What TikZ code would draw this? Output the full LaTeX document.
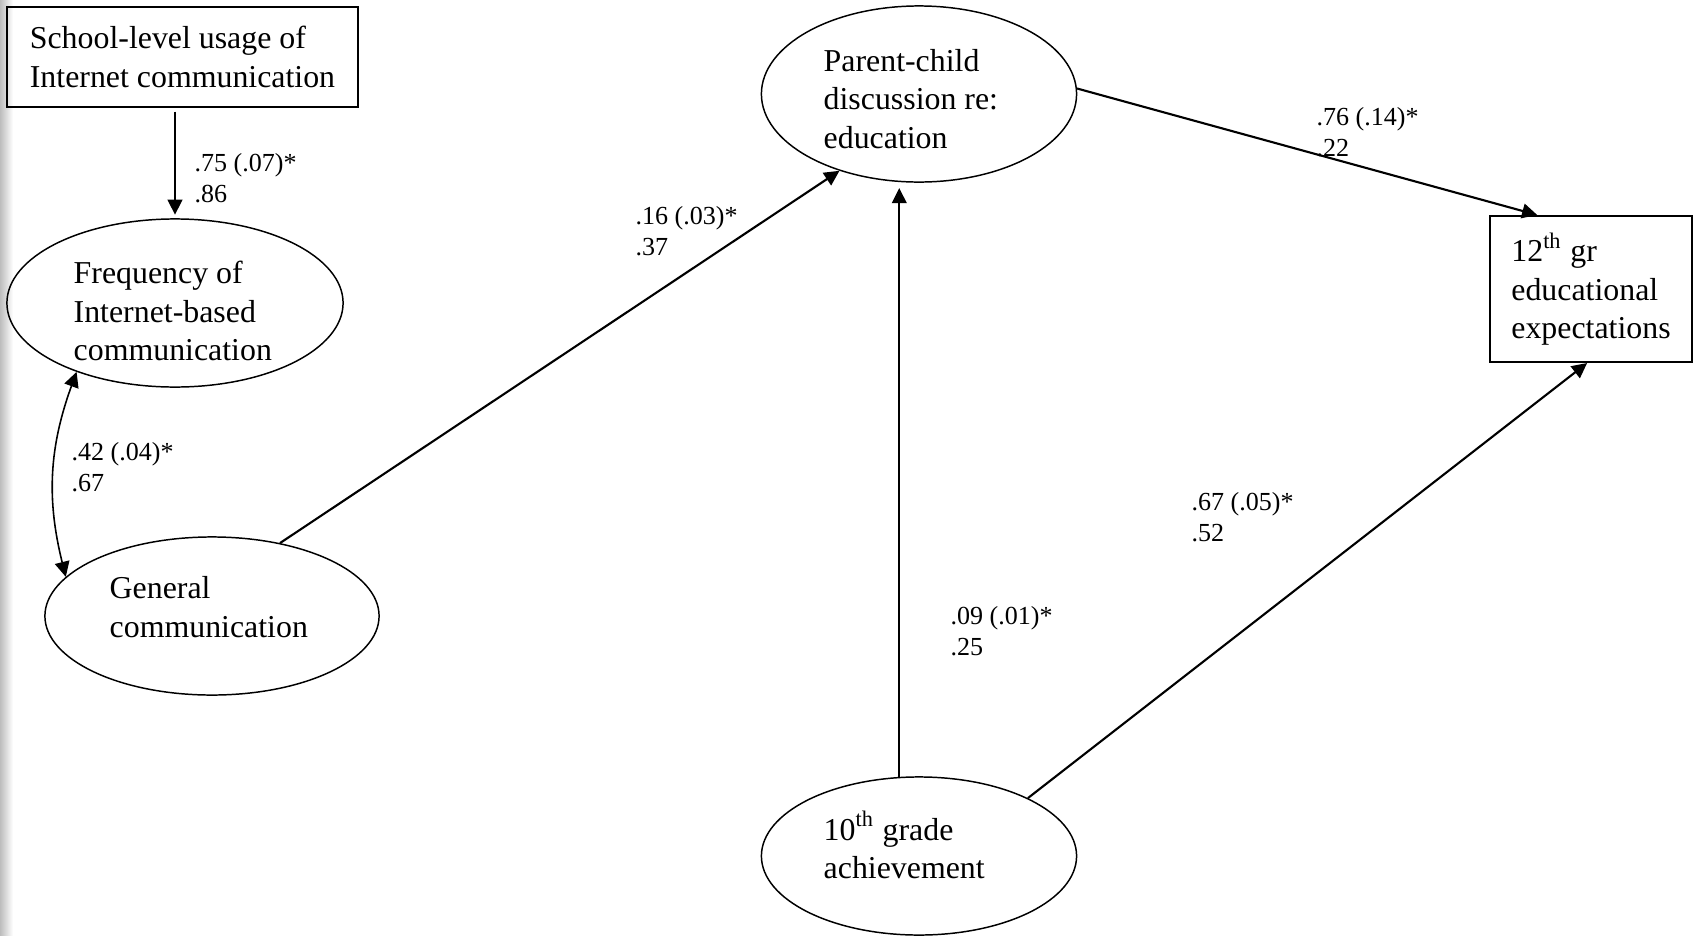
\documentclass[tikz,border=0pt]{standalone}
\usepackage{fontspec}
\setmainfont{Liberation Serif}
\usetikzlibrary{arrows.meta,positioning,shapes.geometric}

\begin{document}
\begin{tikzpicture}[
  x=0.01cm, y=-0.01cm,
  font=\fontsize{9.06}{10.95}\selectfont,
  >={Triangle[length=4.3pt,width=4.2pt]},
  latent/.style={ellipse, draw, line width=0.42pt, inner sep=0pt},
  obs/.style={rectangle, draw, line width=0.55pt, inner sep=0pt, align=left},
  txt/.style={align=left, inner sep=0pt, anchor=west},
  link/.style={->, line width=0.6pt},
  thinlink/.style={->, line width=0.45pt},
  lbl/.style={font=\fontsize{7.4}{8.8}\selectfont, align=left, inner sep=0pt, anchor=west},
]
\useasboundingbox (0,0) rectangle (1693,936);
\fill[left color=black!26, right color=white] (0,0) rectangle (13,936);

% ===== observed variables =====
\node[obs, minimum width=3.51cm, minimum height=1.0cm] (school) at (182.5,57)
  {School-level usage of\\Internet communication};
\node[obs, minimum width=2.02cm, minimum height=1.46cm] (expect) at (1591,289)
  {12\textsuperscript{th} gr\\educational\\expectations};

% ===== latent variables =====
\node[latent, minimum width=3.36cm, minimum height=1.68cm] (freq) at (175,303) {};
\node[latent, minimum width=3.34cm, minimum height=1.58cm] (general) at (212,616) {};
\node[latent, minimum width=3.15cm, minimum height=1.76cm] (parent) at (919,94) {};
\node[latent, minimum width=3.15cm, minimum height=1.58cm] (tenth) at (919,856) {};

\node[txt] (freq-t) at (73,311) {Frequency of\\Internet-based\\communication};
\node[txt] (general-t) at (109,607) {General\\communication};
\node[txt] (parent-t) at (823,99) {Parent-child\\discussion re:\\education};
\node[txt] (tenth-t) at (823,845) {10\textsuperscript{th} grade\\achievement};

% ===== paths =====
\draw[link, shorten <=1pt, shorten >=1pt] (school.south -| freq.north) -- (freq.north);
\draw[<->, line width=0.45pt] (freq.215) to[bend right=17] (general.165);
\draw[link] (general.47) -- (parent.224);
\draw[thinlink, shorten >=1.5pt] (tenth.104) -- (tenth.104 |- parent.south);
\draw[link] (parent.2) -- (expect.126);
\draw[link] (tenth.28) -- (expect.267);

% ===== estimates =====
\node[lbl] (e1) at (194,178) {.75 (.07)*\\.86};
\node[lbl] (e2) at (71,467)  {.42 (.04)*\\.67};
\node[lbl] (e3) at (635,231) {.16 (.03)*\\.37};
\node[lbl] (e4) at (1316,132) {.76 (.14)*\\.22};
\node[lbl] (e5) at (1191,517) {.67 (.05)*\\.52};
\node[lbl] (e6) at (950,631) {.09 (.01)*\\.25};
\end{tikzpicture}
\end{document}
